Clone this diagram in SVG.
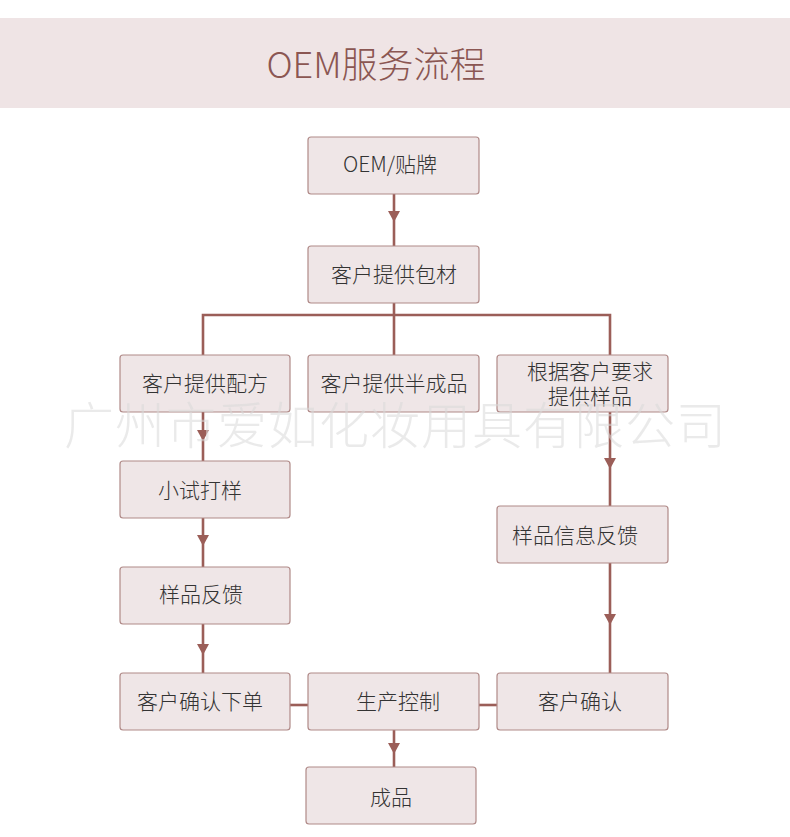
<svg xmlns="http://www.w3.org/2000/svg" xmlns:xlink="http://www.w3.org/1999/xlink" width="790" height="837" viewBox="0 0 790 837">
<style>
.box{fill:#efe6e7;stroke:#b08a88;stroke-width:1.2}
.t{font-family:"Noto Sans CJK SC","Noto Sans",sans-serif;font-size:21px;fill:#333;text-anchor:middle;font-weight:300}
.c{stroke:#9b5e58;stroke-width:2.6;fill:none}
.wm{font-family:"Noto Sans CJK SC",sans-serif;font-size:50px;fill:#d8d8d8;fill-opacity:0.55;letter-spacing:1px;font-weight:300}
</style>
<defs>
<path id="ah" d="M-6,0 L6,0 L0,11 Z" fill="#9b5e58"/>
</defs>
<rect x="0" y="18" width="790" height="90" fill="#efe4e5"/>
<text x="376" y="78" font-family="Noto Sans CJK SC,Noto Sans,sans-serif" font-size="36" font-weight="300" fill="#8b5652" text-anchor="middle">OEM服务流程</text>

<g id="connectors">
<line class="c" x1="394" y1="194" x2="394" y2="246"/>
<use href="#ah" xlink:href="#ah" x="394" y="211"/>
<path class="c" d="M394,303 V315 M203,355 V315 H610 V355 M394,315 V355"/>
<line class="c" x1="203" y1="412" x2="203" y2="461"/>
<use href="#ah" xlink:href="#ah" x="203" y="430"/>
<line class="c" x1="203" y1="518" x2="203" y2="567"/>
<use href="#ah" xlink:href="#ah" x="203" y="535"/>
<line class="c" x1="203" y1="624" x2="203" y2="673"/>
<use href="#ah" xlink:href="#ah" x="203" y="644"/>
<line class="c" x1="610" y1="412" x2="610" y2="506"/>
<use href="#ah" xlink:href="#ah" x="610" y="458"/>
<line class="c" x1="610" y1="563" x2="610" y2="673"/>
<use href="#ah" xlink:href="#ah" x="610" y="614"/>
<line class="c" x1="290" y1="705" x2="308" y2="705"/>
<line class="c" x1="479" y1="705" x2="497" y2="705"/>
<line class="c" x1="394" y1="730" x2="394" y2="767"/>
<use href="#ah" xlink:href="#ah" x="394" y="743"/>
</g>

<g id="n1"><rect class="box" x="308" y="137" width="171" height="57" rx="3"/><text class="t" x="390" y="172">OEM/贴牌</text></g>
<g id="n2"><rect class="box" x="308" y="246" width="171" height="57" rx="3"/><text class="t" x="394" y="282">客户提供包材</text></g>
<g id="n3"><rect class="box" x="120" y="355" width="170" height="57" rx="3"/><text class="t" x="205" y="391">客户提供配方</text></g>
<g id="n4"><rect class="box" x="308" y="355" width="171" height="57" rx="3"/><text class="t" x="394" y="391">客户提供半成品</text></g>
<g id="n5"><rect class="box" x="497" y="355" width="171" height="57" rx="3"/><text class="t" x="590" y="379">根据客户要求</text><text class="t" x="590" y="404">提供样品</text></g>
<g id="n6"><rect class="box" x="120" y="461" width="170" height="57" rx="3"/><text class="t" x="200" y="498">小试打样</text></g>
<g id="n7"><rect class="box" x="497" y="506" width="171" height="57" rx="3"/><text class="t" x="575" y="543">样品信息反馈</text></g>
<g id="n8"><rect class="box" x="120" y="567" width="170" height="57" rx="3"/><text class="t" x="201" y="602">样品反馈</text></g>
<g id="n9"><rect class="box" x="120" y="673" width="170" height="57" rx="3"/><text class="t" x="200" y="709">客户确认下单</text></g>
<g id="n10"><rect class="box" x="308" y="673" width="171" height="57" rx="3"/><text class="t" x="398" y="709">生产控制</text></g>
<g id="n11"><rect class="box" x="497" y="673" width="171" height="57" rx="3"/><text class="t" x="580" y="709">客户确认</text></g>
<g id="n12"><rect class="box" x="306" y="767" width="170" height="57" rx="3"/><text class="t" x="391" y="805">成品</text></g>

<text class="wm" x="64" y="444">广州市爱如化妆用具有限公司</text>
</svg>
